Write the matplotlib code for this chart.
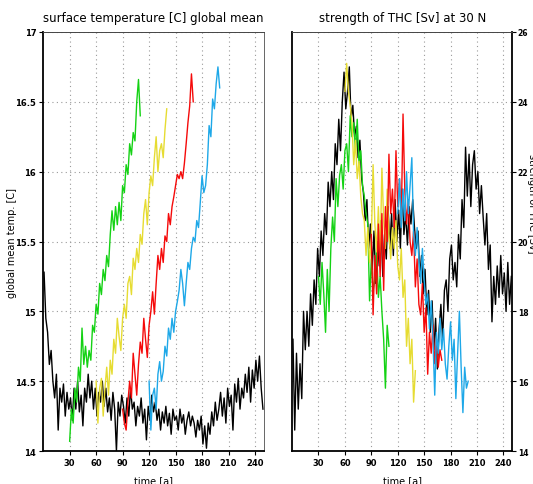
import numpy as np
import matplotlib
matplotlib.use("Agg")
import matplotlib.pyplot as plt

# global mean surface temperature [C], sampled every 2 years
temp_ctrl_start = 1
temp_ctrl = [15.28, 14.95, 14.85, 14.62, 14.72,
             14.50, 14.38, 14.55, 14.15, 14.45, 14.35, 14.48, 14.25, 14.42, 14.30,
             14.38, 14.22, 14.45, 14.30, 14.50, 14.28, 14.40, 14.18, 14.45, 14.35,
             14.55, 14.38, 14.50, 14.30, 14.45, 14.25, 14.42, 14.35, 14.50, 14.32,
             14.45, 14.28, 14.38, 14.22, 14.42, 14.30, 14.00, 14.35, 14.25, 14.40,
             14.32, 14.20, 14.38, 14.25, 14.45, 14.30, 14.35, 14.18, 14.32, 14.25,
             14.38, 14.20, 14.30, 14.08, 14.32, 14.22, 14.40, 14.28, 14.35, 14.22,
             14.30, 14.15, 14.28, 14.20, 14.32, 14.18, 14.27, 14.12, 14.30, 14.22,
             14.25, 14.15, 14.30, 14.20, 14.26, 14.12, 14.22, 14.28, 14.18, 14.25,
             14.20, 14.10, 14.22, 14.15, 14.25, 14.05, 14.18, 14.02, 14.20, 14.12,
             14.28, 14.18, 14.35, 14.22, 14.30, 14.42, 14.25, 14.38, 14.20, 14.45,
             14.32, 14.40, 14.15, 14.48, 14.35, 14.52, 14.30, 14.45, 14.38, 14.55,
             14.42, 14.60, 14.35, 14.58, 14.45, 14.65, 14.50, 14.68, 14.45, 14.30]

temp_green_start = 30
temp_green = [14.07, 14.30, 14.20, 14.45, 14.35, 14.60, 14.50, 14.88, 14.62, 14.75,
              14.60, 14.72, 14.65, 14.90, 14.85, 15.05, 14.98, 15.20, 15.12, 15.30,
              15.22, 15.40, 15.32, 15.55, 15.72, 15.58, 15.75, 15.62, 15.78, 15.65,
              15.90, 15.85, 16.05, 15.98, 16.20, 16.12, 16.28, 16.22, 16.50, 16.66,
              16.40]

temp_yellow_start = 60
temp_yellow = [14.50, 14.20, 14.45, 14.52, 14.25, 14.45, 14.60, 14.40, 14.65, 14.55,
               14.80, 14.70, 14.95, 14.82, 14.72, 14.95, 15.05, 14.95, 15.20, 15.25,
               15.12, 15.38, 15.30, 15.45, 15.35, 15.55, 15.48, 15.70, 15.80, 15.62,
               15.85, 15.97, 15.90, 16.10, 16.25, 16.00, 16.15, 16.20, 16.10, 16.30,
               16.45]

temp_red_start = 90
temp_red = [14.30, 14.20, 14.15, 14.35, 14.50, 14.38, 14.70, 14.55, 14.40, 14.62,
            14.78, 14.70, 14.95, 14.80, 14.67, 14.90, 15.00, 15.14, 14.98, 15.20,
            15.40, 15.30, 15.45, 15.35, 15.54, 15.50, 15.70, 15.62, 15.75, 15.82,
            15.90, 15.98, 15.95, 16.00, 15.95, 16.06, 16.20, 16.35, 16.47, 16.70,
            16.50]

temp_blue_start = 120
temp_blue = [14.50, 14.15, 14.40, 14.45, 14.30, 14.55, 14.64, 14.50, 14.57, 14.75,
             14.68, 14.88, 14.80, 14.95, 14.85, 15.00, 15.07, 15.15, 15.30, 15.20,
             15.04, 15.20, 15.35, 15.30, 15.45, 15.53, 15.50, 15.65, 15.60, 15.78,
             15.97, 15.85, 15.90, 16.05, 16.33, 16.25, 16.52, 16.45, 16.63, 16.75,
             16.60]

# THC strength at 30 N [Sv], sampled every 2 years
thc_ctrl_start = 1
thc_ctrl = [17.2, 14.6, 16.8, 15.2, 16.5, 15.5, 18.0, 16.9, 18.0, 17.0,
            18.5, 17.6, 18.9, 18.2, 19.8, 19.0, 20.3, 19.6, 20.8, 20.2,
            21.7, 21.0, 22.0, 21.2, 22.8, 22.2, 23.5, 22.6, 24.0, 24.85,
            23.8, 24.3, 25.0, 23.5, 23.9, 23.0, 23.3, 22.4, 22.9, 21.8,
            21.4, 20.6, 21.2, 19.8, 20.5, 19.2, 20.3, 18.8, 20.0, 19.3,
            20.6, 19.0, 20.2, 19.5, 21.0, 19.8, 20.8, 19.6, 21.2, 20.0,
            20.9, 19.8, 21.5, 20.2, 20.8, 19.9, 21.0, 20.5, 21.2, 20.4,
            19.8, 20.3, 19.0, 19.6, 18.5, 19.2, 17.9, 18.6, 17.4, 18.3,
            16.9, 17.8, 16.35, 17.5, 18.2, 17.2, 18.6, 18.9, 18.0, 19.5,
            19.9, 18.9, 19.4, 18.7, 20.2, 19.5, 21.2, 20.4, 22.7, 21.3,
            22.5, 21.0, 22.2, 22.6, 21.5, 22.0, 20.8, 21.6, 20.7, 19.9,
            20.8, 19.2, 19.9, 17.7, 19.0, 18.2, 19.3, 18.4, 19.6, 18.5,
            19.1, 18.0, 19.4, 18.2, 19.0]

thc_green_start = 30
thc_green = [19.0, 18.2, 19.4, 18.5, 17.4, 19.2, 18.0, 19.8, 20.7, 20.0,
             21.8, 21.0, 21.9, 22.2, 21.5, 22.6, 22.8, 22.0, 23.6, 23.0,
             23.4, 22.6, 23.5, 22.2, 22.6, 21.6, 21.3, 20.8, 20.5, 18.3,
             19.5, 18.6, 18.9, 19.8, 18.4, 19.0, 18.0, 17.2, 15.8, 17.6,
             17.0]

thc_yellow_start = 60
thc_yellow = [24.3, 25.1, 24.3, 23.9, 23.4, 22.2, 22.9, 21.8, 22.3, 21.3,
              20.8, 20.6, 19.6, 20.4, 19.4, 20.1, 22.2, 20.5, 19.7, 21.0,
              19.5, 22.1, 20.6, 19.8, 21.5, 20.2, 19.5, 20.4, 19.8, 20.6,
              19.3, 18.9, 19.8, 18.4, 18.9, 17.0, 17.8, 16.5, 17.2, 15.4,
              16.3]

thc_red_start = 90
thc_red = [20.2, 17.9, 19.6, 18.5, 20.5, 19.0, 20.8, 18.6, 21.0, 20.0,
           22.5, 20.8, 21.5, 20.4, 22.6, 21.0, 21.8, 20.6, 23.65, 21.5,
           20.5, 21.2, 20.0, 19.6, 20.3, 18.7, 19.5, 18.2, 17.9, 18.8,
           17.4, 18.1, 16.2, 17.4, 16.8, 17.6, 16.5, 17.2, 16.4, 16.9,
           16.6]

thc_blue_start = 120
thc_blue = [20.8, 21.8, 20.4, 21.5, 20.6, 22.0, 20.8, 21.6, 22.4, 20.2,
            19.6, 20.4, 19.5, 18.8, 19.8, 18.9, 18.2, 18.5, 17.5, 18.3,
            17.2, 15.6, 17.4, 16.8, 17.8, 16.9, 17.5, 16.5, 16.06, 17.0,
            17.7, 16.6, 17.2, 15.5, 16.8, 18.0, 16.4, 15.1, 16.4, 15.8,
            16.0]

xticks = [30, 60, 90, 120, 150, 180, 210, 240]
temp_ticks = [14, 14.5, 15, 15.5, 16, 16.5, 17]
temp_ticklabels = ["14", "14.5", "15", "15.5", "16", "16.5", "17"]
thc_ticks = [14, 16, 18, 20, 22, 24, 26]

GREEN = "#14d214"
YELLOW = "#e6dc32"
RED = "#f50a0a"
BLUE = "#1ea8e8"


def years(start, vals):
    return start + 2 * np.arange(len(vals))


fig = plt.figure(figsize=(5.33, 4.85), dpi=100)
ax1 = fig.add_axes([0.081, 0.068, 0.414, 0.864])
ax2 = fig.add_axes([0.548, 0.068, 0.413, 0.864])

lw = 1.0
ax1.plot(years(temp_ctrl_start, temp_ctrl), temp_ctrl, color="black", lw=lw)
ax1.plot(years(temp_green_start, temp_green), temp_green, color=GREEN, lw=lw)
ax1.plot(years(temp_yellow_start, temp_yellow), temp_yellow, color=YELLOW, lw=lw)
ax1.plot(years(temp_red_start, temp_red), temp_red, color=RED, lw=lw)
ax1.plot(years(temp_blue_start, temp_blue), temp_blue, color=BLUE, lw=lw)

ax2.plot(years(thc_ctrl_start, thc_ctrl), thc_ctrl, color="black", lw=lw)
ax2.plot(years(thc_green_start, thc_green), thc_green, color=GREEN, lw=lw)
ax2.plot(years(thc_yellow_start, thc_yellow), thc_yellow, color=YELLOW, lw=lw)
ax2.plot(years(thc_red_start, thc_red), thc_red, color=RED, lw=lw)
ax2.plot(years(thc_blue_start, thc_blue), thc_blue, color=BLUE, lw=lw)

for ax in (ax1, ax2):
    ax.set_xlim(0, 250)
    ax.set_xticks(xticks)
    ax.set_xticklabels([str(t) for t in xticks], fontsize=6, fontweight="bold")
    ax.grid(True, color="#9a9a9a", linestyle=(0, (1, 3)), linewidth=0.8)
    ax.set_axisbelow(True)
    ax.tick_params(direction="out", length=3, width=0.8, pad=2)
    ax.set_xlabel("time [a]", fontsize=7, labelpad=6)
    for side in ("left", "bottom", "right"):
        ax.spines[side].set_linewidth(1.3)
    ax.spines["top"].set_linewidth(0.7)
    ax.spines["top"].set_color("#444444")

ax1.spines["right"].set_linewidth(0.7)
ax1.spines["right"].set_color("#666666")

ax1.set_ylim(14, 17)
ax1.set_yticks(temp_ticks)
ax1.set_yticklabels(temp_ticklabels, fontsize=6, fontweight="bold")
ax1.set_ylabel("global mean temp. [C]", fontsize=7)
ax1.yaxis.set_label_coords(-0.118, 0.5)
ax1.set_title("surface temperature [C] global mean", fontsize=8.5, pad=8)

ax2.set_ylim(14, 26)
ax2.set_yticks(thc_ticks)
ax2.set_yticklabels([str(t) for t in thc_ticks], fontsize=5.5, fontweight="bold")
ax2.yaxis.tick_right()
ax2.tick_params(axis="y", pad=1)
ax2.set_title("strength of THC [Sv] at 30 N", fontsize=8.5, pad=8)
# right-hand axis label, partly past the figure edge
fig.text(0.999, 0.58, "strength of THC [Sv]", fontsize=7, rotation=270,
         ha="center", va="center")

fig.savefig("out.png", dpi=100)
